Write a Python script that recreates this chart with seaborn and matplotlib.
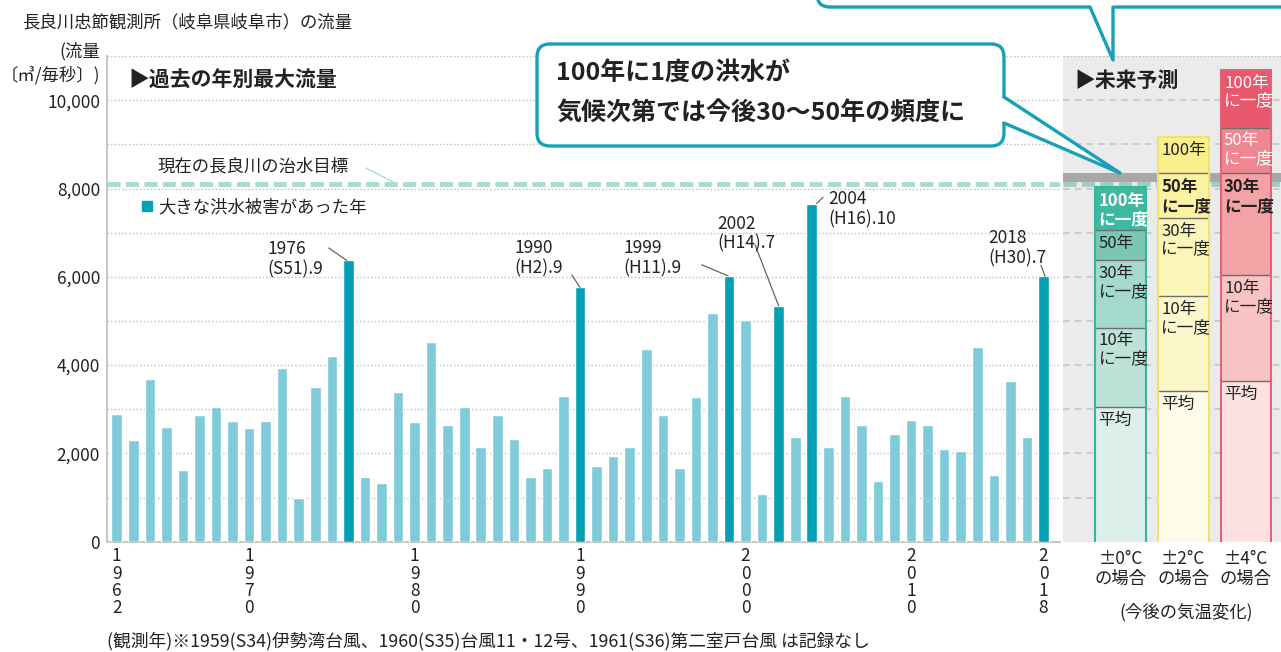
import numpy as np
import pandas as pd
import matplotlib
matplotlib.use("Agg")
import matplotlib.pyplot as plt
import seaborn as sns
from matplotlib.patches import FancyBboxPatch, Polygon, Rectangle
from matplotlib.lines import Line2D

# ---------------- data ----------------
years = list(range(1962, 2019))
peak_flow = [2900, 2300, 3680, 2600, 1630, 2860, 3060, 2740, 2580, 2740,
             3930, 990, 3500, 4200, 6370, 1470, 1340, 3380, 2720, 4530,
             2650, 3060, 2150, 2860, 2320, 1460, 1660, 3290, 5760, 1710,
             1940, 2150, 4370, 2860, 1660, 3270, 5180, 6020, 5030, 1080,
             5340, 2370, 7660, 2150, 3290, 2650, 1380, 2430, 2760, 2650,
             2090, 2050, 4410, 1500, 3640, 2370, 6010]
flood_years = [1976, 1990, 1999, 2002, 2004, 2018]
flood_labels = ["1976\n(S51).9", "1990\n(H2).9", "1999\n(H11).9",
                "2002\n(H14).7", "2004\n(H16).10", "2018\n(H30).7"]
tick_years = [1962, 1970, 1980, 1990, 2000, 2010, 2018]
y_ticks = [0, 2000, 4000, 6000, 8000, 10000]
target_flow = 8100
band_flow = 8250

scenarios = ["±0°C\nの場合", "±2°C\nの場合", "±4°C\nの場合"]
avg_flow = [3050, 3410, 3630]
flow_10y = [4850, 5560, 6030]
flow_30y = [6370, 7340, 8340]
flow_50y = [7050, 8340, 9380]
flow_100y = [8030, 9170, 10680]
seg_labels = [
    ["平均", "10年\nに一度", "30年\nに一度", "50年", "100年\nに一度"],
    ["平均", "10年\nに一度", "30年\nに一度", "50年\nに一度", "100年"],
    ["平均", "10年\nに一度", "30年\nに一度", "50年\nに一度", "100年\nに一度"],
]

# ---------------- style ----------------
sns.set_style("white")
plt.rcParams['font.family'] = ['Noto Sans CJK JP', 'DejaVu Sans']
TXT = '#222222'
LIGHT = '#80cbd9'
DARK = '#03a0b6'
TEAL = '#17a0b6'

seg_colors = [
    ['#dcefea', '#bde3d8', '#a5d9cb', '#7cc7b4', '#3cb9a0'],
    ['#fefce8', '#fdf8cb', '#fcf5b9', '#fbf2a2', '#faef8c'],
    ['#fde2e1', '#f8c3c3', '#f3a2a5', '#ee878f', '#e8596d'],
]
seg_txt = [
    [TXT, TXT, TXT, TXT, 'white'],
    [TXT, TXT, TXT, TXT, TXT],
    [TXT, TXT, TXT, 'white', 'white'],
]
seg_bold = [
    [False, False, False, False, True],
    [False, False, False, True, False],
    [False, False, True, False, False],
]
edge_cols = ['#35b79c', '#efe46a', '#e8607a']

W, H = 1281, 652
fig = plt.figure(figsize=(W / 100, H / 100), dpi=100)

y0, y11 = 541.7, 56.05
ax = fig.add_axes([107 / W, (H - y0) / H, (1060 - 107) / W, (y0 - y11) / H])
ax2 = fig.add_axes([1063 / W, (H - y0) / H, (1281 - 1063) / W, (y0 - y11) / H])

# ---------------- main bar chart ----------------
df = pd.DataFrame({
    "year": years,
    "flow": peak_flow,
    "kind": ["flood" if y in flood_years else "normal" for y in years],
})
sns.barplot(data=df, x="year", y="flow", hue="kind",
            palette={"flood": DARK, "normal": LIGHT}, dodge=False,
            width=0.64, saturation=1, errorbar=None, legend=False,
            ax=ax, zorder=3)
ax.set_xlim(-0.586, 57.0)
ax.set_ylim(0, 11000)
for v in range(1000, 11001, 1000):
    ax.axhline(v, color='#bdbdbd', lw=1, ls=(0, (1, 1.6)), zorder=1)
ax.axhline(target_flow, color='#a9dccb', lw=3.5, ls=(0, (2.7, 1.1)), zorder=2)

ax.set_yticks(y_ticks)
ax.set_yticklabels([f"{v:,}" for v in y_ticks], fontsize=12.5, color=TXT)
tick_pos = [years.index(y) for y in tick_years]
ax.set_xticks(tick_pos)
ax.set_xticklabels(["\n".join(str(y)) for y in tick_years], fontsize=12.5,
                   color=TXT, linespacing=0.95)
ax.tick_params(axis='both', length=0)
ax.tick_params(axis='y', pad=5)
ax.tick_params(axis='x', pad=4)
ax.set_xlabel("")
ax.set_ylabel("")
for s in ['top', 'right']:
    ax.spines[s].set_visible(False)
for s in ['left', 'bottom']:
    ax.spines[s].set_color('#c8c8c8')
    ax.spines[s].set_linewidth(1.5)

# annotations for flood years (offsets in points)
text_off = [(-58, 1), (-47, 21), (-76, 13), (-44, 52), (12, -4), (-40, 20)]
line_off = [(-13, 9), (-6, 9), (-19, 8), (-17, 44), (4.5, 4.5), (-3, 8)]
xy_shift = [-0.1, 0, -0.05, 0, 0.3, 0.1]
for yr, lab, to, lo, sh in zip(flood_years, flood_labels, text_off, line_off, xy_shift):
    i = years.index(yr)
    v = peak_flow[i]
    ax.annotate("", xy=(i + sh, v), xytext=lo, textcoords='offset points',
                arrowprops=dict(arrowstyle='-', color='#666666', lw=0.9,
                                shrinkA=0, shrinkB=0), zorder=4)
    ax.annotate(lab, xy=(i, v), xytext=to, textcoords='offset points',
                ha='left', va='center', fontsize=12.5, color=TXT,
                linespacing=1.15, zorder=4)

# ---------------- future panel ----------------
ax2.set_facecolor('#ebebeb')
ax2.set_xlim(-0.916, 2.558)
ax2.set_ylim(0, 11000)
for v in range(1000, 11000, 1000):
    ax2.axhline(v, color='#c6c6c6', lw=1.2, ls=(0, (4, 3)), zorder=1)
ax2.axhline(11000, color='#bdbdbd', lw=1, ls=(0, (1, 1.6)), zorder=1)
ax2.axhline(band_flow, color='#a8a8a8', lw=6.5, zorder=1.5)
ax2.axhline(target_flow, color='#8fc6b5', lw=3.5, ls=(0, (2.7, 1.1)), zorder=1.6, alpha=0.8)

bw = 0.81
levels = [avg_flow, flow_10y, flow_30y, flow_50y, flow_100y]
for k in range(3):
    bottom = 0
    for j, lev in enumerate(levels):
        top = lev[k]
        ax2.bar(k, top - bottom, bottom=bottom, width=bw, color=seg_colors[k][j],
                edgecolor='none', zorder=3)
        if j < len(levels) - 1:
            ax2.plot([k - bw / 2, k + bw / 2], [top, top], color='#6e6e6e', lw=1, zorder=4)
        ax2.annotate(seg_labels[k][j], xy=(k - bw / 2, top), xytext=(2.5, -3.5),
                     textcoords='offset points', ha='left', va='top',
                     fontsize=12, color=seg_txt[k][j], linespacing=1.05,
                     fontweight='bold' if seg_bold[k][j] else 'normal', zorder=5)
        bottom = top
    ax2.plot([k - bw / 2, k - bw / 2], [0, flow_100y[k]], color=edge_cols[k], lw=1.5, zorder=4)
    ax2.plot([k + bw / 2, k + bw / 2], [0, flow_100y[k]], color=edge_cols[k], lw=1.5, zorder=4)
    ax2.plot([k - bw / 2, k + bw / 2], [flow_100y[k], flow_100y[k]], color=edge_cols[k], lw=1.5, zorder=4)

ax2.set_xticks(range(3))
ax2.set_xticklabels(scenarios, fontsize=12.5, color=TXT, linespacing=1.15)
ax2.set_yticks([])
ax2.tick_params(axis='x', length=0, pad=6)
for s in ax2.spines.values():
    s.set_visible(False)

# ---------------- overlay (pixel coordinates) ----------------
axo = fig.add_axes([0, 0, 1, 1], zorder=10)
axo.set_xlim(0, W)
axo.set_ylim(H, 0)
axo.axis('off')

axo.text(22, 22, "長良川忠節観測所（岐阜県岐阜市）の流量", fontsize=12.5, color=TXT,
         ha='left', va='center')
axo.text(100, 51, "(流量", fontsize=12.5, color=TXT, ha='right', va='center')
axo.text(100, 75, "〔㎥/毎秒〕)", fontsize=12.5, color=TXT, ha='right', va='center')
axo.text(128, 80, "▶過去の年別最大流量", fontsize=15, fontweight='bold', color=TXT,
         ha='left', va='center')
axo.text(1074, 80, "▶未来予測", fontsize=15, fontweight='bold', color=TXT,
         ha='left', va='center')
axo.text(157, 166, "現在の長良川の治水目標", fontsize=12.5, color=TXT, ha='left', va='center')
axo.add_line(Line2D([366, 393], [168, 182], color='#a9dccb', lw=1))
axo.add_patch(Rectangle((142, 201), 10, 10, color=DARK))
axo.text(158, 207, "大きな洪水被害があった年", fontsize=12.5, color=TXT, ha='left', va='center')
axo.text(1186, 612, "(今後の気温変化)", fontsize=12.5, color=TXT, ha='center', va='center')
axo.text(107, 641, "(観測年)※1959(S34)伊勢湾台風、1960(S35)台風11・12号、1961(S36)第二室戸台風 は記録なし",
         fontsize=12.8, color=TXT, ha='left', va='center')

# main callout
lw_c = 2.4
axo.add_patch(FancyBboxPatch((537, 44), 467, 102, boxstyle="round,pad=0,rounding_size=13",
                             facecolor='white', edgecolor=TEAL, lw=lw_c, zorder=2))
axo.add_patch(Polygon([(995, 98), (1004, 98), (1120, 173), (1004, 122), (995, 122)],
                      closed=True, facecolor='white', edgecolor='none', zorder=3))
axo.add_line(Line2D([1004, 1120, 1004], [97, 173, 123], color=TEAL, lw=lw_c,
                    solid_joinstyle='round', solid_capstyle='round', zorder=4))
axo.text(556, 74, "100年に1度の洪水が", fontsize=18, fontweight='bold', color=TXT,
         ha='left', va='center', zorder=5)
axo.text(556, 114, "気候次第では今後30〜50年の頻度に", fontsize=18, fontweight='bold',
         color=TXT, ha='left', va='center', zorder=5)

# partial callout at top
axo.add_patch(FancyBboxPatch((817, -90), 560, 97, boxstyle="round,pad=0,rounding_size=13",
                             facecolor='white', edgecolor=TEAL, lw=lw_c, zorder=2))
axo.add_patch(Polygon([(1088, 4), (1091, 7), (1113, 60), (1113, 7), (1116, 4)],
                      closed=True, facecolor='white', edgecolor='none', zorder=3))
axo.add_line(Line2D([1090, 1113, 1113], [7, 60, 7], color=TEAL, lw=lw_c,
                    solid_joinstyle='round', solid_capstyle='round', zorder=4))

fig.savefig("out.png", dpi=100)
